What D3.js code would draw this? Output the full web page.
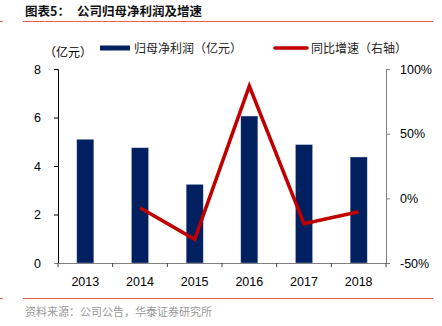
<!DOCTYPE html>
<html><head><meta charset="utf-8">
<script src="https://cdn.jsdelivr.net/npm/d3@7"></script>
<style>body{margin:0;background:#fff}svg{display:block}</style>
</head><body>
<script>
const years = ["2013","2014","2015","2016","2017","2018"];
const profit = [5.1, 4.75, 3.24, 6.06, 4.88, 4.37];
const growthYears = ["2014","2015","2016","2017","2018"];
const growth = [-7.2, -31.7, 86.8, -19.6, -10.4];
const leftTicks = [0, 2, 4, 6, 8];
const rightTicks = [-50, 0, 50, 100];

const W = 442, H = 326;
const svg = d3.select("body").append("svg").attr("width", W).attr("height", H);
const font = "'Liberation Sans', Arial, sans-serif";
const cjk = "'Noto Sans CJK SC', sans-serif";

// title
svg.append("text").attr("x", 25).attr("y", 16).attr("font-family", cjk).attr("font-size", 12.5)
  .attr("font-weight", "bold").attr("fill", "#111").text("图表5：");
svg.append("text").attr("x", 77).attr("y", 16).attr("font-family", cjk).attr("font-size", 12.5)
  .attr("font-weight", "bold").attr("fill", "#111").text("公司归母净利润及增速");
svg.append("line").attr("x1", 23).attr("x2", 433).attr("y1", 21.5).attr("y2", 21.5).attr("stroke", "#e8604f").attr("stroke-width", 1);
svg.append("line").attr("x1", 0).attr("x2", 3).attr("y1", 21.5).attr("y2", 21.5).attr("stroke", "#e8604f").attr("stroke-width", 1);

const x0 = 58, x1 = 386, yTop = 69, yBot = 263;
const x = d3.scaleBand().domain(years).range([x0, x1]);
const yL = d3.scaleLinear().domain([0, 8]).range([yBot, yTop]);
const yR = d3.scaleLinear().domain([-50, 100]).range([yBot, yTop]);

// bars
const bw = 17;
svg.append("g").selectAll("rect").data(profit).join("rect")
  .attr("x", (d, i) => x(years[i]) + x.bandwidth() / 2 - bw / 2)
  .attr("y", d => yL(d)).attr("width", bw).attr("height", d => yBot - yL(d))
  .attr("fill", "#002060").attr("stroke", "#b8c0d8").attr("stroke-width", 0.4);

// left axis
const gL = svg.append("g").attr("transform", `translate(${x0},0)`)
  .call(d3.axisLeft(yL).tickValues(leftTicks).tickSize(4).tickPadding(13).tickFormat(d3.format("d")));
gL.select(".domain").attr("stroke", "#000");
gL.selectAll(".tick line").attr("stroke", "#000");
gL.selectAll("text").attr("font-family", font).attr("font-size", 12.5).attr("fill", "#000");

// right axis
const gR = svg.append("g").attr("transform", `translate(${x1},0)`)
  .call(d3.axisRight(yR).tickValues(rightTicks).tickSize(4).tickPadding(10).tickFormat(d => d + "%"));
gR.select(".domain").attr("stroke", "#808080");
gR.selectAll(".tick line").attr("stroke", "#808080");
gR.selectAll("text").attr("font-family", font).attr("font-size", 12.5).attr("fill", "#000");

// bottom axis
svg.append("line").attr("x1", 54).attr("x2", 387).attr("y1", yBot + 0.5).attr("y2", yBot + 0.5).attr("stroke", "#808080");
const tickPos = years.map(y => x(y)).concat([x1]);
svg.append("g").selectAll("line").data(tickPos).join("line")
  .attr("x1", d => d).attr("x2", d => d).attr("y1", yBot).attr("y2", yBot + 4).attr("stroke", "#404040");
svg.append("g").selectAll("text").data(years).join("text")
  .attr("x", d => x(d) + x.bandwidth() / 2).attr("y", 286).attr("text-anchor", "middle")
  .attr("font-family", font).attr("font-size", 12.5).attr("fill", "#000").text(d => d);

// line
const line = d3.line().x((d, i) => x(growthYears[i]) + x.bandwidth() / 2).y(d => yR(d));
svg.append("path").datum(growth).attr("d", line).attr("fill", "none")
  .attr("stroke", "#C00000").attr("stroke-width", 3.5).attr("stroke-linejoin", "miter");

// legend
svg.append("text").attr("x", 44).attr("y", 57).attr("font-family", cjk).attr("font-size", 12).attr("fill", "#000").text("（亿元）");
svg.append("rect").attr("x", 100).attr("y", 45.5).attr("width", 30).attr("height", 5).attr("fill", "#002060");
svg.append("text").attr("x", 134).attr("y", 52.5).attr("font-family", cjk).attr("font-size", 12).attr("fill", "#222").text("归母净利润（亿元）");
svg.append("line").attr("x1", 275).attr("x2", 307).attr("y1", 48).attr("y2", 48).attr("stroke", "#C00000").attr("stroke-width", 3.5).attr("stroke-linecap", "round");
svg.append("text").attr("x", 311).attr("y", 52.5).attr("font-family", cjk).attr("font-size", 12).attr("fill", "#222").text("同比增速（右轴）");

// footer
svg.append("line").attr("x1", 23).attr("x2", 433).attr("y1", 298.5).attr("y2", 298.5).attr("stroke", "#e8604f").attr("stroke-width", 1);
svg.append("line").attr("x1", 0).attr("x2", 3).attr("y1", 298.5).attr("y2", 298.5).attr("stroke", "#e8604f").attr("stroke-width", 1);
svg.append("text").attr("x", 25).attr("y", 316).attr("font-family", cjk).attr("font-size", 11).attr("fill", "#999").text("资料来源：公司公告，华泰证券研究所");
</script>
</body></html>
